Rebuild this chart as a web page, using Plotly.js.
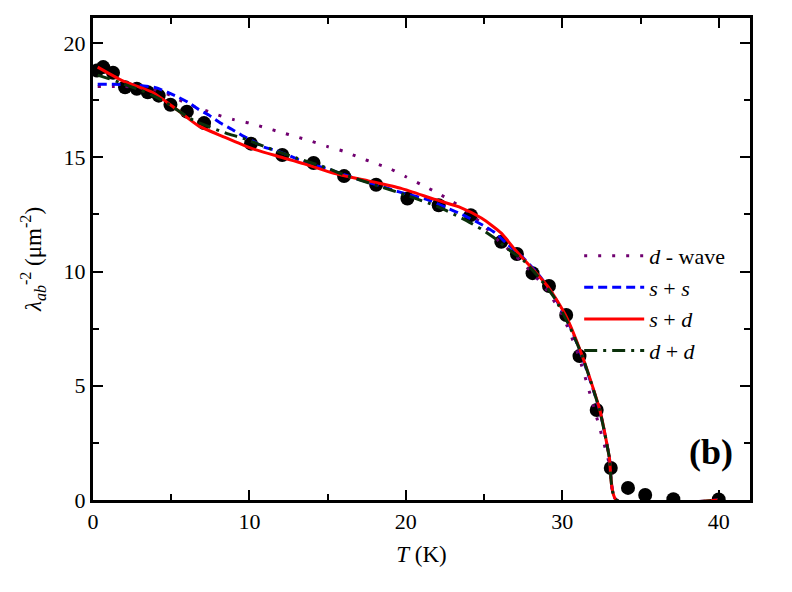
<!DOCTYPE html>
<html>
<head>
<meta charset="utf-8">
<script src="https://cdn.plot.ly/plotly-3.0.1.min.js"></script>
<style>html,body{margin:0;padding:0;background:#fff;}#chart{width:792px;height:592px;}</style>
</head>
<body>
<div id="chart"></div>
<script>
// Measured data points
const dataT = [0.26,0.65,1.28,2.05,2.8,3.5,4.2,4.95,6.0,7.1,10.1,12.1,14.1,16.05,18.1,20.1,22.1,24.15,26.1,27.1,28.1,29.15,30.25,31.1,32.2,33.1,34.2,35.3,37.1,40];
const dataLam = [18.8,18.95,18.7,18.07,18.0,17.85,17.7,17.3,17.0,16.5,15.6,15.1,14.75,14.18,13.8,13.2,12.9,12.47,11.3,10.77,9.93,9.37,8.1,6.3,3.94,1.4,0.53,0.22,0.03,0.02];

// d-wave fit
const dwT = [0.3,2,4,5,6,7,8,9,10,11,12,13,14,15,16,17,18,19,20,21,22,23,24,25,26,27,28,29,30,31,32,33,33.45,40];
const dwLam = [18.1,18.1,17.95,17.7,17.35,17.1,16.85,16.65,16.5,16.3,16.1,15.9,15.7,15.47,15.27,15.0,14.75,14.5,14.15,13.8,13.45,13.05,12.6,12.0,11.3,10.7,10.0,9.2,8.1,6.4,4.1,1.6,0,0];

// s + s fit
const ssT = [0.3,1.3,3,4,4.75,5.4,6.1,6.75,7.4,8.15,8.9,9.6,10.3,10.9,11.7,12.45,13.2,13.9,15,16,17.15,18.6,19.5,21.45,22.8,23.6,25,25.7,26.5,27.5,28.5,29.5,30.5,31.3,32.4,33,33.45,40];
const ssLam = [18.2,18.2,18.15,18.05,17.85,17.65,17.4,17.1,16.85,16.5,16.22,15.93,15.68,15.45,15.3,15.1,14.88,14.7,14.5,14.25,14.0,13.7,13.5,13.13,12.73,12.5,12.0,11.7,11.2,10.6,9.85,8.9,7.6,6.2,3.9,1.9,0,0];

// s + d fit
const sdT = [0.3,1.9,3.8,5.4,6.7,8.35,10.1,11.8,13.5,15.4,17.6,19.7,21.8,23.4,24.85,26.1,27,28.05,29.15,30.2,31.3,32.4,33,33.45,40];
const sdLam = [18.95,18.35,17.85,17.07,16.4,15.9,15.4,15.05,14.72,14.3,13.97,13.64,13.17,12.83,12.33,11.68,10.94,10.15,9.28,8.1,6.26,3.94,1.9,0,0];

// d + d fit
const ddT = [0.3,1,2,3,4,5,6.2,7,8.5,9.6,11.4,13,14.8,16,18,20,22,23.6,24.85,25.6,26.5,27.5,28.5,29.5,30.5,31.3,32.4,33,33.45,40];
const ddLam = [18.6,18.45,18.2,17.95,17.65,17.25,16.7,16.45,16.06,15.83,15.36,14.97,14.57,14.25,13.8,13.35,12.85,12.33,11.85,11.5,11.0,10.5,9.75,8.85,7.55,6.25,3.9,1.9,0,0];

const legendNames = ['<i>d</i> - wave', '<i>s</i> + <i>s</i>', '<i>s</i> + <i>d</i>', '<i>d</i> + <i>d</i>'];

const serif = 'Liberation Serif, Times New Roman, Times, serif';

const traces = [
  {x: dataT, y: dataLam, mode: 'markers', type: 'scatter', showlegend: false,
   marker: {color: '#000', size: 14}},
  {x: dwT, y: dwLam, mode: 'lines', name: legendNames[0],
   line: {color: '#700070', dash: '3px,11px', width: 3, shape: 'spline', smoothing: 0.6}},
  {x: ssT, y: ssLam, mode: 'lines', name: legendNames[1],
   line: {color: '#0000ff', dash: '9px,5px', width: 3, shape: 'spline', smoothing: 0.6}},
  {x: sdT, y: sdLam, mode: 'lines', name: legendNames[2],
   line: {color: '#ff0000', width: 3, shape: 'spline', smoothing: 0.6}},
  {x: ddT, y: ddLam, mode: 'lines', name: legendNames[3],
   line: {color: '#0a300a', dash: '13px,6px,3px,6px', width: 3, shape: 'spline', smoothing: 0.6}}
];

const axisCommon = {
  showline: true, linewidth: 3, linecolor: '#000', mirror: 'ticks',
  ticks: 'inside', ticklen: 10, tickwidth: 2, tickcolor: '#000',
  showgrid: false, zeroline: false,
  tickfont: {family: serif, size: 22, color: '#000'}
};

const layout = {
  width: 792, height: 592,
  margin: {l: 93, r: 42, t: 18, b: 92},
  paper_bgcolor: '#fff', plot_bgcolor: '#fff',
  xaxis: Object.assign({}, axisCommon, {
    range: [0, 42], tickvals: [0,10,20,30,40],
    minor: {tickvals: [5,15,25,35], ticks: 'inside', ticklen: 6, tickwidth: 2, tickcolor: '#000', showgrid: false},
    title: {text: '<i>T</i> (K)', font: {family: serif, size: 23, color: '#000'}, standoff: 13}
  }),
  yaxis: Object.assign({}, axisCommon, {
    range: [0, 21.1], tickvals: [0,5,10,15,20],
    minor: {tickvals: [2.5,7.5,12.5,17.5], ticks: 'inside', ticklen: 6, tickwidth: 2, tickcolor: '#000', showgrid: false},
    title: {text: '<i>λ</i><sub><i>ab</i></sub><sup>-2</sup> (μm<sup>-2</sup>)', font: {family: serif, size: 23, color: '#000'}, standoff: 16}
  }),
  legend: {
    x: 0.74, y: 0.55, xanchor: 'left', yanchor: 'top',
    bgcolor: 'rgba(0,0,0,0)', borderwidth: 0,
    font: {family: serif, size: 22, color: '#000'},
    itemwidth: 60, tracegroupgap: 0
  },
  annotations: [{
    text: '<b>(b)</b>', xref: 'paper', yref: 'paper',
    x: 0.94, y: 0.1, xanchor: 'center', yanchor: 'middle', showarrow: false,
    font: {family: serif, size: 36, color: '#000'}
  }]
};

Plotly.newPlot('chart', traces, layout, {displayModeBar: false, staticPlot: true});
</script>
</body>
</html>
